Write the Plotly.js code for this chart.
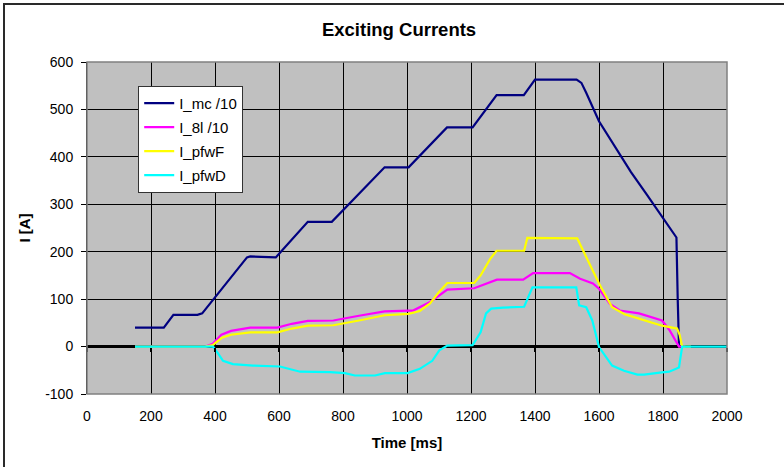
<!DOCTYPE html>
<html>
<head>
<meta charset="utf-8">
<script src="https://cdn.plot.ly/plotly-3.0.1.min.js"></script>
<style>
html,body{margin:0;padding:0;background:#fff;}
#wrap{position:relative;width:784px;height:467px;overflow:hidden;}
#chart{position:absolute;left:0;top:0;width:784px;height:467px;}
#frame{position:absolute;left:3px;top:3px;width:800px;height:480px;border-left:2px solid #2a2a2a;border-top:2px solid #2a2a2a;pointer-events:none;}
</style>
</head>
<body>
<div id="wrap"><div id="chart"></div><div id="frame"></div></div>
<script>
// ---- Data ----
const seriesNames = ["I_mc /10", "I_8l /10", "I_pfwF", "I_pfwD"];

const mcTime = [150, 240, 270, 345, 360, 500, 510, 590, 690, 765, 930, 1005, 1125, 1205, 1280, 1365, 1400, 1530, 1545, 1560, 1600, 1650, 1700, 1750, 1800, 1842, 1846, 1850];
const mcVal  = [40, 40, 67, 67, 70, 188, 190, 188, 263, 263, 378, 378, 462, 462, 530, 530, 563, 563, 556, 535, 475, 420, 368, 320, 272, 230, 100, 0];

const l8Time = [150, 370, 393, 420, 450, 510, 595, 640, 690, 770, 850, 930, 1005, 1019, 1072, 1126, 1210, 1250, 1281, 1363, 1394, 1509, 1541, 1581, 1600, 1634, 1665, 1725, 1797, 1820, 1850, 1870];
const l8Val  = [0, 0, 6, 25, 33, 40, 40, 48, 54, 55, 65, 74, 76, 76, 94, 120, 123, 133, 141, 141, 155, 155, 143, 133, 122, 90, 76, 70, 55, 35, 0, 0];

const pfwFTime = [150, 370, 393, 420, 450, 510, 595, 640, 690, 770, 850, 930, 1005, 1040, 1072, 1100, 1126, 1210, 1230, 1260, 1280, 1366, 1376, 1532, 1560, 1600, 1641, 1680, 1725, 1797, 1844, 1852, 1860, 1887];
const pfwFVal  = [0, 0, 3, 18, 25, 30, 30, 38, 44, 45, 55, 66, 69, 75, 91, 115, 134, 134, 150, 185, 202, 202, 229, 228, 189, 133, 83, 68, 59, 44, 38, 25, 0, 0];

const pfwDTime = [150, 370, 394, 410, 425, 456, 519, 603, 666, 760, 806, 837, 900, 931, 1002, 1040, 1079, 1101, 1126, 1205, 1230, 1247, 1263, 1300, 1366, 1392, 1529, 1538, 1560, 1579, 1600, 1641, 1678, 1720, 1741, 1790, 1819, 1841, 1850, 1853, 1860, 2000];
const pfwDVal  = [0, 0, 0, -15, -30, -37, -40, -42, -53, -54, -56, -61, -61, -56, -56, -47, -30, -8, 2, 3, 30, 70, 80, 82, 84, 125, 125, 87, 83, 55, -1, -40, -51, -59, -59, -55, -53, -47, -44, -30, 0, 0];

const xTicks = [0, 200, 400, 600, 800, 1000, 1200, 1400, 1600, 1800, 2000];
const yTicks = [-100, 0, 100, 200, 300, 400, 500, 600];

const colors = ["#000080", "#FF00FF", "#FFFF00", "#00FFFF"];

const xs = [mcTime, l8Time, pfwFTime, pfwDTime];
const ys = [mcVal, l8Val, pfwFVal, pfwDVal];

const traces = seriesNames.map((n, i) => ({
  type: "scatter", mode: "lines", name: n,
  x: xs[i], y: ys[i],
  xaxis: i === 3 ? "x2" : "x",
  legendgroup: "g" + i,
  line: {color: colors[i], width: 2.2},
  hoverinfo: "x+y+name"
}));

const fnt = "Liberation Sans, Arial, sans-serif";

const layout = {
  width: 784, height: 467,
  margin: {l: 87, r: 57, t: 62, b: 73, pad: 0},
  paper_bgcolor: "rgba(0,0,0,0)",
  plot_bgcolor: "#C0C0C0",
  font: {family: fnt, color: "#000", size: 14},
  title: {text: "<b>Exciting Currents</b>", font: {family: fnt, size: 18.5, color: "#000"},
          x: 0.509, xref: "container", xanchor: "center", y: 0.936, yref: "container", yanchor: "middle"},
  showlegend: true,
  legend: {x: 0.08, y: 0.928, xanchor: "left", yanchor: "top", bgcolor: "#FFFFFF",
           bordercolor: "#333", borderwidth: 1, font: {family: fnt, size: 15, color: "#000"},
           traceorder: "grouped", tracegroupgap: 1.5},
  xaxis: {
    range: [0, 2000], tickvals: xTicks, ticktext: xTicks.map(String),
    showgrid: true, gridcolor: "#000", gridwidth: 1,
    zeroline: false, showline: false,
    ticks: "outside", ticklen: 9, tickcolor: "rgba(0,0,0,0)",
    tickfont: {family: fnt, size: 14},
    title: {text: "<b>Time [ms]</b>", font: {family: fnt, size: 15}, standoff: 14},
    fixedrange: true
  },
  xaxis2: {
    range: [0, 2000], overlaying: "x", anchor: "free", position: 1/7,
    tickvals: xTicks, showticklabels: false, showgrid: false, zeroline: false, showline: false,
    ticks: "outside", ticklen: 4, tickwidth: 2, tickcolor: "#000", fixedrange: true
  },
  yaxis: {
    range: [-100, 600], tickvals: yTicks, ticktext: yTicks.map(String),
    showgrid: true, gridcolor: "#000", gridwidth: 1,
    zeroline: true, zerolinecolor: "#000", zerolinewidth: 3,
    showline: true, linecolor: "#000", linewidth: 1,
    ticks: "outside", ticklen: 5, tickcolor: "#000", tickwidth: 1,
    ticklabelstandoff: 5,
    tickfont: {family: fnt, size: 14},
    title: {text: "<b>I [A]</b>", font: {family: fnt, size: 15}, standoff: 10},
    fixedrange: true
  },
  shapes: [
    {type: "rect", xref: "paper", yref: "paper", x0: 0, x1: 1, y0: 0, y1: 1,
     line: {color: "#808080", width: 1.5}, fillcolor: "rgba(0,0,0,0)", layer: "above"}
  ]
};

Plotly.newPlot("chart", traces, layout, {displayModeBar: false, staticPlot: true});
</script>
</body>
</html>
